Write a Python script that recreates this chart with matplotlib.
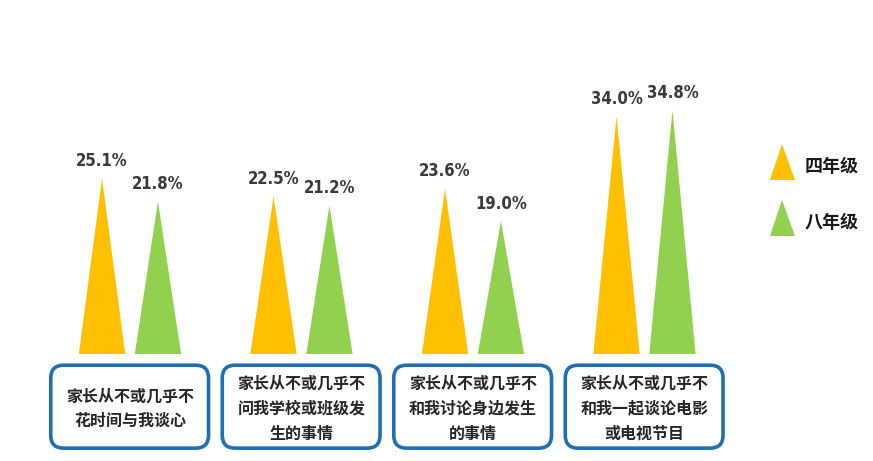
import numpy as np
import matplotlib.pyplot as plt
from matplotlib.patches import FancyBboxPatch, Polygon

plt.rcParams['font.family'] = ['Noto Sans CJK SC', 'DejaVu Sans']

# Dati
categorie = ['家长从不或几乎不\n花时间与我谈心',
             '家长从不或几乎不\n问我学校或班级发\n生的事情',
             '家长从不或几乎不\n和我讨论身边发生\n的事情',
             '家长从不或几乎不\n和我一起谈论电影\n或电视节目']
serie = ['四年级', '八年级']
quarta = [25.1, 22.5, 23.6, 34.0]
ottava = [21.8, 21.2, 19.0, 34.8]
colori = ['#FFC000', '#92D050']

fig = plt.figure(figsize=(8.73, 4.61), dpi=100)
ax = fig.add_axes([0, 0, 1, 1])
px_x, px_y = 171.5, 7.0  # pixel per unita
ax.set_xlim(-130 / px_x, (873 - 130) / px_x)
ax.set_ylim(-(461 - 354) / px_y, 354 / px_y)
ax.axis('off')

offset = 0.163
half_w = 0.135

for i, valori in enumerate([quarta, ottava]):
    sign = -1 if i == 0 else 1
    for j, v in enumerate(valori):
        xc = j + sign * offset
        ax.fill([xc - half_w, xc, xc + half_w], [0, v, 0], color=colori[i], lw=0)
        ax.text(xc, v + 1.2, f'{v:.1f}%', ha='center', va='bottom',
                fontsize=12, fontweight='bold', fontstretch='condensed',
                color='#3a3a3a', family='DejaVu Sans')

# Riquadri delle categorie
for j, cat in enumerate(categorie):
    x0, x1 = j - 0.462, j + 0.458
    y0, y1 = -13.45, -1.6
    box = FancyBboxPatch((x0, y0), x1 - x0, y1 - y0,
                         boxstyle='round,pad=0,rounding_size=0.075',
                         mutation_aspect=px_x / px_y,
                         fc='white', ec='#1F6FB5', lw=2.6)
    ax.add_patch(box)
    ax.text(j, (y0 + y1) / 2 - 0.3, cat, ha='center', va='center',
            fontsize=11.5, fontweight='bold', color='#262626', linespacing=1.7)

# Legenda
W, H = 873, 461
leg_y = [162, 218]
for k, nome in enumerate(serie):
    yc = leg_y[k]
    tri = Polygon([(770 / W, 1 - (yc + 18) / H), (782 / W, 1 - (yc - 18) / H),
                   (795 / W, 1 - (yc + 18) / H)],
                  closed=True, transform=fig.transFigure, fc=colori[k], lw=0)
    fig.add_artist(tri)
    fig.text(805 / W, 1 - (yc + 4) / H, nome, ha='left', va='center',
             fontsize=13, fontweight='bold', color='#1a1a1a')

fig.savefig('out.png', dpi=100)
